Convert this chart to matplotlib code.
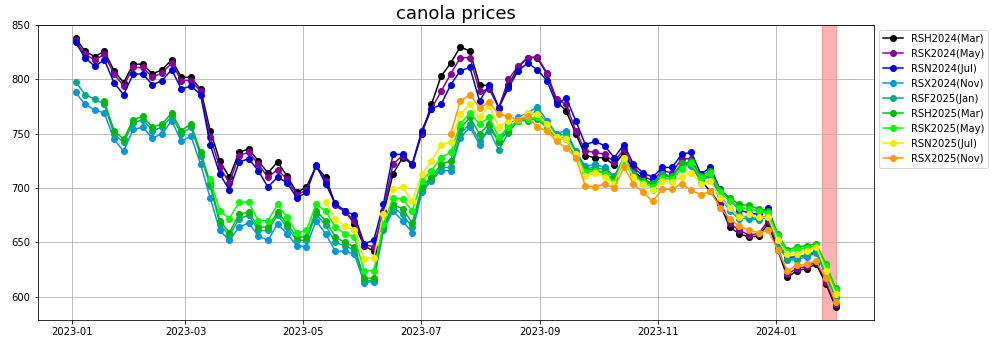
import numpy as np
import pandas as pd
import matplotlib
matplotlib.use("Agg")
import matplotlib.pyplot as plt
import matplotlib.dates as mdates

# sample dates (every ~5 days, Jan 2023 -> Feb 2024)
fechas = pd.date_range("2023-01-03", "2024-02-01", periods=80)

contratos = ["RSH2024(Mar)", "RSK2024(May)", "RSN2024(Jul)", "RSX2024(Nov)", "RSF2025(Jan)",
             "RSH2025(Mar)", "RSK2025(May)", "RSN2025(Jul)", "RSX2025(Nov)"]

rsh2024 = [838, 826, 821, 826, 808, 797, 814, 814, 805, 809, 818, 802, 802,
           791, 753, 725, 710, 733, 736, 725, 714, 724, 711, 696, 701, 720, 710,
           685, 679, 667, 647, 642, 676, 713, 728, 722, 750, 777, 803, 815, 830,
           826, 795, 794, 774, 795, 811, 820, 820, 805, 780, 771, 750, 730,
           728, 728, 721, 733, 716, 708, 704, 713, 710, 722, 722, 707, 697,
           685, 664, 658, 655, 656, 667, 643, 618, 624, 626, 630, 612, 591]
rsk2024 = [836, 823, 818, 823, 805, 794, 811, 811, 802, 806, 815, 799, 799,
           789, 747, 719, 705, 730, 733, 722, 710, 717, 708, 694, 698, 720, 707,
           684, 678, 670, 648, 646, 679, 722, 730, 721, 751, 773, 789, 805, 820,
           820, 789, 791, 774, 800, 812, 820, 821, 806, 782, 777, 753, 734,
           733, 731, 724, 736, 719, 711, 707, 716, 714, 727, 727, 710, 712,
           688, 668, 661, 657, 658, 670, 645, 621, 626, 628, 632, 614, 593]
rsn2024 = [834, 820, 812, 818, 797, 786, 805, 805, 795, 799, 809, 791, 794,
           786, 740, 713, 698, 724, 727, 716, 701, 710, 705, 691, 696, 721, 704,
           686, 679, 675, 649, 652, 685, 731, 731, 722, 753, 773, 777, 795, 808,
           811, 780, 795, 774, 792, 808, 815, 809, 799, 777, 783, 762, 740,
           743, 739, 728, 740, 722, 714, 710, 719, 719, 731, 733, 713, 719,
           699, 690, 680, 677, 676, 682, 656, 636, 637, 638, 641, 622, 600]
rsx2024 = [788, 777, 772, 769, 745, 734, 754, 756, 746, 750, 762, 743, 748,
           722, 691, 661, 652, 664, 668, 656, 652, 667, 658, 647, 646, 670, 658,
           642, 642, 639, 613, 614, 661, 679, 670, 659, 696, 707, 716, 716, 746,
           756, 740, 757, 742, 759, 765, 769, 775, 762, 750, 753, 734, 720,
           722, 719, 711, 728, 714, 707, 705, 713, 711, 722, 720, 707, 711,
           692, 679, 672, 672, 671, 673, 648, 634, 634, 637, 640, 620, 600]
rsf2025 = [798, 786, 782, 777, 750, 742, 760, 763, 753, 756, 766, 750, 756,
           730, 702, 667, 656, 672, 675, 661, 661, 675, 664, 652, 652, 676, 666,
           650, 647, 643, 615, 615, 663, 682, 676, 664, 699, 708, 719, 719, 750,
           759, 743, 753, 735, 751, 762, 766, 771, 759, 748, 750, 733, 718,
           719, 717, 710, 727, 713, 706, 703, 712, 710, 723, 722, 708, 713,
           694, 681, 675, 673, 672, 675, 650, 635, 636, 639, 642, 622, 602]
# contratos que empiezan mas tarde
rsh2025 = [780, 753, 745, 763, 766, 756, 759, 769, 753, 759,
           733, 705, 670, 659, 676, 678, 664, 664, 678, 667, 655, 655, 679, 670,
           655, 650, 646, 617, 617, 664, 685, 681, 668, 701, 710, 722, 725, 755,
           765, 750, 759, 743, 753, 762, 762, 764, 755, 746, 745, 728, 717,
           717, 714, 708, 725, 711, 707, 704, 711, 710, 722, 725, 711, 716,
           698, 691, 685, 684, 681, 679, 658, 643, 646, 647, 649, 630, 608]
rsk2025 = [708, 679, 672, 687, 687, 670, 670, 685, 673, 659, 661, 685, 679,
           664, 658, 655, 624, 624, 667, 691, 690, 679, 707, 716, 728, 733, 759,
           769, 759, 765, 747, 756, 762, 764, 765, 757, 747, 746, 730, 715,
           716, 713, 706, 724, 710, 705, 701, 709, 708, 718, 723, 709, 714,
           696, 688, 682, 681, 679, 677, 656, 641, 644, 645, 647, 628, 606]
rsn2025 = [687,
           672, 665, 661, 635, 636, 676, 699, 701, 688, 713, 725, 740, 742, 768,
           777, 765, 776, 756, 762, 763, 769, 768, 759, 747, 745, 731, 711,
           714, 710, 704, 728, 710, 704, 698, 707, 706, 710, 714, 704, 707,
           691, 682, 673, 676, 673, 673, 652, 639, 639, 642, 646, 624, 603]
rsx2025 = [750, 780,
           786, 774, 779, 768, 766, 763, 766, 756, 753, 743, 737, 728, 702,
           701, 704, 700, 719, 704, 696, 688, 699, 699, 704, 698, 694, 697,
           682, 672, 665, 661, 659, 661, 643, 624, 629, 630, 633, 617, 595]

series = [rsh2024, rsk2024, rsn2024, rsx2024, rsf2025, rsh2025, rsk2025, rsn2025, rsx2025]

span_ini = pd.Timestamp("2024-01-25")
span_fin = pd.Timestamp("2024-02-01")

fig = plt.figure(figsize=(992 / 72, 341 / 72), dpi=72)
ax = fig.add_axes([37.5 / 992, 21 / 341, 836 / 992, 295.3 / 341])

for k in range(len(series)):
    y = series[k]
    x = fechas[len(fechas) - len(y):]
    ax.plot(x, y, "o-", color=plt.cm.nipy_spectral(k / 10), label=contratos[k])

ax.axvspan(span_ini, span_fin, color="red", alpha=0.3)

ax.set_title("canola prices", fontsize=18)
ax.xaxis.set_major_locator(mdates.MonthLocator(bymonth=[1, 3, 5, 7, 9, 11]))
ax.xaxis.set_major_formatter(mdates.DateFormatter("%Y-%m"))
ax.grid()
ax.legend(loc="upper left", bbox_to_anchor=(1, 1))

fig.savefig("out.png", dpi=72)
